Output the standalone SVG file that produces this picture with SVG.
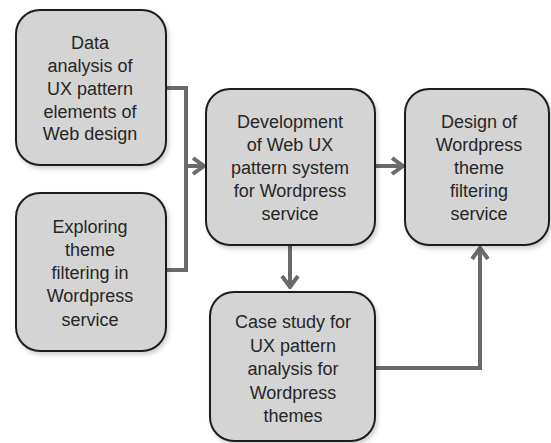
<svg xmlns="http://www.w3.org/2000/svg" width="551" height="443" viewBox="0 0 551 443">
  <style>
    .box { fill: #d4d4d4; stroke: #1e1e1e; stroke-width: 2; filter: url(#sh); }
    .lbl { font-family: "Liberation Sans", Arial, sans-serif; font-size: 18px; fill: #262626; text-anchor: middle; }
    .conn { fill: none; stroke: #6a6a6a; stroke-width: 4; }
  </style>
  <defs>
    <filter id="sh" x="-10%" y="-10%" width="130%" height="130%">
      <feDropShadow dx="2" dy="3" stdDeviation="2" flood-color="#000" flood-opacity="0.18"/>
    </filter>
    <marker id="arr" viewBox="0 0 14 20" refX="12" refY="10" markerWidth="14" markerHeight="20" markerUnits="userSpaceOnUse" orient="auto">
      <polyline points="1,2 12,10 1,18" fill="none" stroke="#6a6a6a" stroke-width="4"/>
    </marker>
  </defs>
  <rect width="551" height="443" fill="#ffffff"/>

  <g id="connectors">
    <polyline class="conn" points="166,88 186,88 186,270 166,270"/>
    <line class="conn" x1="186" y1="166" x2="204" y2="166" marker-end="url(#arr)"/>
    <line class="conn" x1="375" y1="166" x2="403" y2="166" marker-end="url(#arr)"/>
    <line class="conn" x1="290" y1="245" x2="290" y2="287" marker-end="url(#arr)"/>
    <polyline class="conn" points="375,368 480,368 480,248" marker-end="url(#arr)"/>
  </g>

  <g id="node-data-analysis">
    <rect class="box" x="16" y="10" width="150" height="155" rx="24"/>
    <text class="lbl" x="90" y="49">Data</text>
    <text class="lbl" x="90" y="72">analysis of</text>
    <text class="lbl" x="90" y="95">UX pattern</text>
    <text class="lbl" x="90" y="118">elements of</text>
    <text class="lbl" x="90" y="140">Web design</text>
  </g>

  <g id="node-exploring">
    <rect class="box" x="16" y="193" width="150" height="158" rx="24"/>
    <text class="lbl" x="90" y="233">Exploring</text>
    <text class="lbl" x="90" y="256">theme</text>
    <text class="lbl" x="90" y="279">filtering in</text>
    <text class="lbl" x="90" y="302">Wordpress</text>
    <text class="lbl" x="90" y="326">service</text>
  </g>

  <g id="node-development">
    <rect class="box" x="206" y="89" width="169" height="156" rx="24"/>
    <text class="lbl" x="290" y="128">Development</text>
    <text class="lbl" x="290" y="151">of Web UX</text>
    <text class="lbl" x="290" y="174">pattern system</text>
    <text class="lbl" x="290" y="197">for Wordpress</text>
    <text class="lbl" x="290" y="220">service</text>
  </g>

  <g id="node-design">
    <rect class="box" x="405" y="89" width="144" height="156" rx="24"/>
    <text class="lbl" x="479" y="128">Design of</text>
    <text class="lbl" x="479" y="151">Wordpress</text>
    <text class="lbl" x="479" y="174">theme</text>
    <text class="lbl" x="479" y="197">filtering</text>
    <text class="lbl" x="479" y="220">service</text>
  </g>

  <g id="node-case-study">
    <rect class="box" x="210" y="292" width="165" height="149" rx="24"/>
    <text class="lbl" x="293" y="328">Case study for</text>
    <text class="lbl" x="293" y="352">UX pattern</text>
    <text class="lbl" x="293" y="375">analysis for</text>
    <text class="lbl" x="293" y="399">Wordpress</text>
    <text class="lbl" x="293" y="422">themes</text>
  </g>
</svg>
